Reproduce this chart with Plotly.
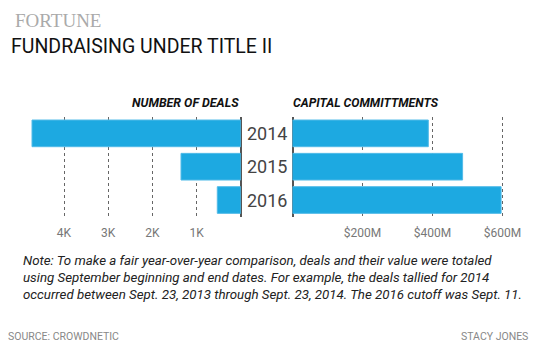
import plotly.graph_objects as go

W, H = 545, 350

years = ["2014", "2015", "2016"]
deals = [4724, 1353, 532]
capital_m = [388, 486, 596]

deal_ticks = [1000, 2000, 3000, 4000]
deal_labels = ["1K", "2K", "3K", "4K"]
cap_ticks = [200, 400, 600]
cap_labels = ["$200M", "$400M", "$600M"]

title = "FUNDRAISING UNDER TITLE II"
brand = "FORTUNE"
left_header = "NUMBER OF DEALS"
right_header = "CAPITAL COMMITTMENTS"
note_lines = [
    "Note: To make a fair year-over-year comparison, deals and their value were totaled",
    "using September beginning and end dates. For example, the deals tallied for 2014",
    "occurred between Sept. 23, 2013 through Sept. 23, 2014. The 2016 cutoff was Sept. 11.",
]
source = "SOURCE: CROWDNETIC"
credit = "STACY JONES"

SANS = "Roboto, sans-serif"
BAR = "#1DA9E1"


def px(x):
    return x / W


def py(y):
    return 1 - y / H


left_zero = 240.8
right_zero = 292.5
left_scale = 44.2 / 1000.0   # px per deal
right_scale = 70.0 / 200.0   # px per $M

fig = go.Figure()
fig.add_trace(go.Bar(
    x=deals, y=years, orientation="h", xaxis="x", yaxis="y",
    marker=dict(color=BAR, line=dict(color="#52BBE8", width=1)),
    showlegend=False, hoverinfo="skip",
))
fig.add_trace(go.Bar(
    x=capital_m, y=years, orientation="h", xaxis="x2", yaxis="y",
    marker=dict(color=BAR, line=dict(color="#52BBE8", width=1)),
    showlegend=False, hoverinfo="skip",
))

tickfont = dict(family=SANS, size=12, color="#777777")
common_x = dict(
    showgrid=True, gridcolor="#666666", griddash="dot", gridwidth=1,
    zeroline=True, zerolinecolor="#555555", zerolinewidth=2,
    showline=False, ticks="", tickfont=tickfont, fixedrange=True,
    anchor="y", tickmode="array", ticklabelstandoff=7,
)

fig.update_layout(
    width=W, height=H,
    margin=dict(l=0, r=0, t=0, b=0),
    paper_bgcolor="white", plot_bgcolor="white",
    bargap=0.2,
    xaxis=dict(domain=[0, px(left_zero)], range=[left_zero / left_scale, 0],
               tickvals=deal_ticks, ticktext=deal_labels, **common_x),
    xaxis2=dict(domain=[px(right_zero), 1], range=[0, (W - right_zero) / right_scale],
                tickvals=cap_ticks, ticktext=cap_labels, **common_x),
    yaxis=dict(domain=[py(216.7), py(116.7)], type="category",
               categoryorder="array", categoryarray=years,
               range=[2.5, -0.5], showgrid=False, zeroline=False,
               showticklabels=False, showline=False, fixedrange=True),
)

ann = []
ann.append(dict(text=brand, x=px(13), y=py(20.5), xref="paper", yref="paper",
                xanchor="left", yanchor="middle", showarrow=False,
                font=dict(family="Liberation Serif, Times New Roman, serif", size=19, color="#AAAAAA")))
ann.append(dict(text=title, x=px(9), y=py(46), xref="paper", yref="paper",
                xanchor="left", yanchor="middle", showarrow=False,
                font=dict(family=SANS, size=19.5, color="#111111")))
ann.append(dict(text="<b><i>" + left_header + "</i></b>", x=px(240.5), y=py(103), xref="paper", yref="paper",
                xanchor="right", yanchor="middle", showarrow=False,
                font=dict(family=SANS, size=12.4, color="#111111")))
ann.append(dict(text="<b><i>" + right_header + "</i></b>", x=px(291), y=py(103), xref="paper", yref="paper",
                xanchor="left", yanchor="middle", showarrow=False,
                font=dict(family=SANS, size=12.2, color="#111111")))
for i, yr in enumerate(years):
    ann.append(dict(text=yr, x=px((left_zero + right_zero) / 2), y=i, xref="paper", yref="y",
                    xanchor="center", yanchor="middle", showarrow=False,
                    font=dict(family=SANS, size=18, color="#444444")))
for i, line in enumerate(note_lines):
    ann.append(dict(text="<i>" + line + "</i>", x=px(21), y=py(260.5 + i * 16.8), xref="paper", yref="paper",
                    xanchor="left", yanchor="middle", showarrow=False,
                    font=dict(family=SANS, size=13.3, color="#222222")))
ann.append(dict(text=source, x=px(6), y=py(336.7), xref="paper", yref="paper",
                xanchor="left", yanchor="middle", showarrow=False,
                font=dict(family=SANS, size=10.5, color="#888888")))
ann.append(dict(text=credit, x=px(529.5), y=py(336.7), xref="paper", yref="paper",
                xanchor="right", yanchor="middle", showarrow=False,
                font=dict(family=SANS, size=10.5, color="#888888")))
fig.update_layout(annotations=ann)

fig.write_html("out.html", config={"displayModeBar": False})
